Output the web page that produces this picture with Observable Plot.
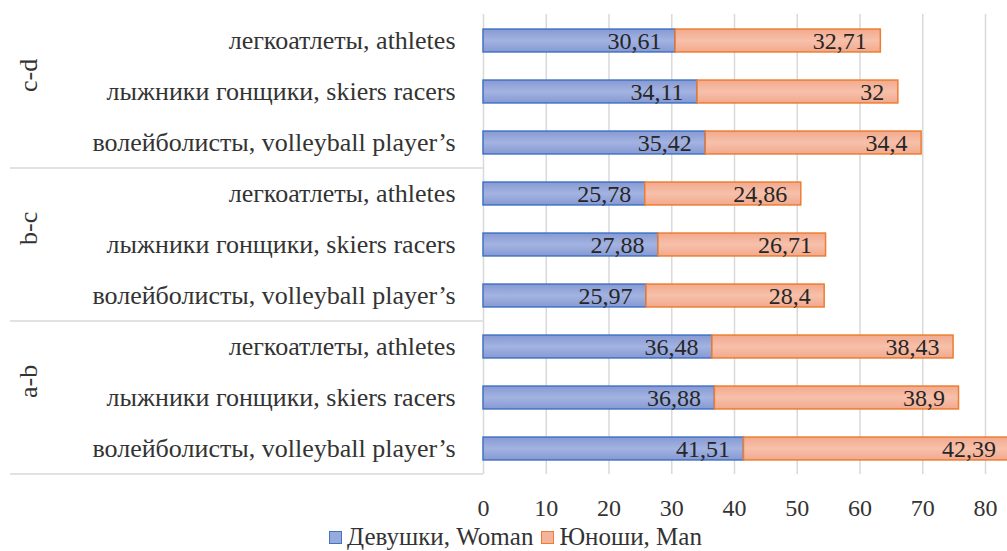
<!DOCTYPE html>
<html>
<head>
<meta charset="utf-8">
<script src="https://cdn.jsdelivr.net/npm/d3@7"></script>
<script src="https://cdn.jsdelivr.net/npm/@observablehq/plot@0.6"></script>
<style>
  html, body { margin: 0; padding: 0; background: #fff; }
  #chart svg { display: block; overflow: visible; }
  .legend { display: flex; justify-content: center; align-items: center; height: 26px; padding-top: 4px;
    font-family: "Liberation Serif", "Times New Roman", "DejaVu Serif", serif; font-size: 25px; line-height: 26px; color: #333;
    transform: translateX(12px); }
  .legend .item { display: flex; align-items: center; margin: 0 4px; height: 26px; }
  .legend .sw { width: 13px; height: 13px; margin-right: 5px; box-sizing: border-box; }
</style>
</head>
<body>
<div id="chart"></div>
<script>
// ---- data ----
const groups = ["c-d", "b-c", "a-b"];
const sports = ["легкоатлеты, athletes", "лыжники гонщики, skiers racers", "волейболисты, volleyball player’s"];
const seriesNames = ["Девушки, Woman", "Юноши, Man"];
// values listed row by row, top to bottom (c-d: athletes, skiers, volleyball; b-c: ...; a-b: ...)
const womanValues = [30.61, 34.11, 35.42, 25.78, 27.88, 25.97, 36.48, 36.88, 41.51];
const manValues   = [32.71, 32,    34.4,  24.86, 26.71, 28.4,  38.43, 38.9,  42.39];
const xTicks = [0, 10, 20, 30, 40, 50, 60, 70, 80];

// ---- build rows ----
const keys = [];
groups.forEach(g => sports.forEach(s => keys.push(g + "|" + s)));
const rows = keys.map((k, i) => ({
  key: k,
  woman: womanValues[i],
  man: manValues[i],
  wx1: 0, wx2: womanValues[i],
  mx1: womanValues[i], mx2: womanValues[i] + manValues[i]
}));
const fmt = v => String(v).replace(".", ",");

const W = 1007, H = 520, mT = 14, mB = 46, mL = 483, mR = 22;
const step = (H - mT - mB) / keys.length;
const inset = step * 0.275;
const FONT = "'Liberation Serif', 'Times New Roman', 'DejaVu Serif', serif";

const separators = (index, scales, values, dimensions) => {
  const g = d3.create("svg:g");
  groups.forEach(gr => {
    const lastKey = gr + "|" + sports[sports.length - 1];
    const y = scales.y(lastKey) + step;
    g.append("line")
      .attr("x1", 10).attr("x2", dimensions.marginLeft)
      .attr("y1", y).attr("y2", y)
      .attr("stroke", "#d9d9d9").attr("stroke-width", 1.5);
  });
  return g.node();
};

const plot = Plot.plot({
  width: W, height: H,
  marginTop: mT, marginBottom: mB, marginLeft: mL, marginRight: mR,
  style: { fontFamily: FONT, fontSize: "24px", color: "#333", background: "#fff" },
  x: { domain: [0, 80], ticks: xTicks },
  y: { type: "band", domain: keys, padding: 0 },
  marks: [
    Plot.ruleX(xTicks, { stroke: "#d9d9d9", strokeWidth: 1.5 }),
    Plot.barX(rows, { x1: "wx1", x2: "wx2", y: "key", fill: "url(#gBlue)", stroke: "#4472C4", strokeWidth: 1.5, insetTop: inset, insetBottom: inset }),
    Plot.barX(rows, { x1: "mx1", x2: "mx2", y: "key", fill: "url(#gOrange)", stroke: "#ED7D31", strokeWidth: 1.5, insetTop: inset, insetBottom: inset }),
    Plot.text(rows, { x: "wx2", y: "key", text: d => fmt(d.woman), textAnchor: "end", dx: -14, fill: "#262626", fontSize: 24 }),
    Plot.text(rows, { x: "mx2", y: "key", text: d => fmt(d.man), textAnchor: "end", dx: -14, fill: "#262626", fontSize: 24 }),
    Plot.axisX({ ticks: xTicks, tickSize: 0, tickPadding: 24, label: null, fontSize: 24 }),
    Plot.axisY({ tickSize: 0, tickPadding: 28, label: null, fontSize: 26, tickFormat: k => k.split("|")[1] }),
    Plot.text(groups, { y: g => g + "|" + sports[1], text: g => g, frameAnchor: "left", dx: -455, rotate: -90, fontSize: 26, fill: "#333" }),
    separators
  ]
});

const svg = d3.select(plot.tagName.toLowerCase() === "svg" ? plot : plot.querySelector("svg"));
const defs = svg.insert("defs", ":first-child");
function grad(id, edge, mid) {
  const lg = defs.append("linearGradient").attr("id", id).attr("x1", 0).attr("y1", 0).attr("x2", 0).attr("y2", 1);
  lg.append("stop").attr("offset", "0%").attr("stop-color", edge);
  lg.append("stop").attr("offset", "50%").attr("stop-color", mid);
  lg.append("stop").attr("offset", "100%").attr("stop-color", edge);
}
grad("gBlue", "#8699d3", "#a3b3e1");
grad("gOrange", "#f2a98e", "#f7c0aa");

document.getElementById("chart").appendChild(plot);

// legend
const legend = document.createElement("div");
legend.className = "legend";
const colors = [["#97aadc", "#4472C4"], ["#f4b49c", "#ED7D31"]];
seriesNames.forEach((n, i) => {
  const it = document.createElement("div");
  it.className = "item";
  const sw = document.createElement("span");
  sw.className = "sw";
  sw.style.background = colors[i][0];
  sw.style.border = "1px solid " + colors[i][1];
  it.appendChild(sw);
  const t = document.createElement("span");
  t.textContent = n;
  it.appendChild(t);
  legend.appendChild(it);
});
document.body.appendChild(legend);
</script>
</body>
</html>
